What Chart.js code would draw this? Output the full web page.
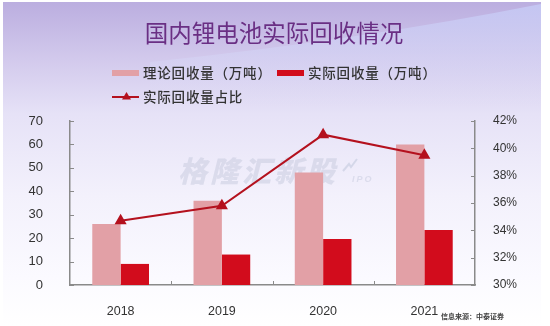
<!DOCTYPE html>
<html>
<head>
<meta charset="utf-8">
<script src="https://cdn.jsdelivr.net/npm/chart.js@4.4.1/dist/chart.umd.min.js"></script>
<style>
html, body { margin: 0; padding: 0; background: #fff; }
#wrap { width: 550px; height: 326px; }
</style>
</head>
<body>
<div id="wrap"><canvas id="recycleChart" width="550" height="326"></canvas></div>
<script>
var years = ['2018', '2019', '2020', '2021'];
var theoreticalVolume = [26, 36, 48, 60];      // 理论回收量（万吨）
var actualVolume = [9, 13, 19.6, 23.5];        // 实际回收量（万吨）
var actualShare = [34.7, 35.8, 41.0, 39.5];    // 实际回收量占比 (%)

var chartTitle = '国内锂电池实际回收情况';
var sourceNote = '信息来源：中泰证券';
var watermark = '格隆汇新股';

var LIGHT_RED = '#e2a0a6';
var DARK_RED = '#d20c1c';
var LINE_RED = '#b4111e';
var AXIS_GRAY = '#8a8a8a';
var TEXT_GRAY = '#333333';
var CJK = '"Noto Sans CJK SC", "Noto Sans", sans-serif';
var LATIN = '"Liberation Sans", Arial, sans-serif';

// background, wave and watermark
var backdrop = {
    id: 'backdrop',
    beforeDraw: function (chart) {
        var ctx = chart.ctx;
        ctx.save();
        ctx.fillStyle = '#ffffff';
        ctx.fillRect(0, 0, chart.width, chart.height);

        var g = ctx.createLinearGradient(0, 0, 0, 326);
        g.addColorStop(0, '#baaddf');
        g.addColorStop(0.18, '#d2c9ec');
        g.addColorStop(0.35, '#e6e2f7');
        g.addColorStop(0.6, '#f3f1fc');
        g.addColorStop(0.85, '#fbfaff');
        g.addColorStop(1, '#ffffff');
        ctx.fillStyle = g;
        ctx.fillRect(3, 2, 538, 324);

        // lighter bluish swoosh in the upper right
        var w = ctx.createLinearGradient(0, 0, 0, 110);
        w.addColorStop(0, 'rgba(196,200,245,0.9)');
        w.addColorStop(1, 'rgba(230,230,250,0)');
        ctx.fillStyle = w;
        ctx.beginPath();
        ctx.moveTo(150, 62);
        ctx.quadraticCurveTo(360, 40, 541, 4);
        ctx.lineTo(541, 110);
        ctx.lineTo(150, 110);
        ctx.closePath();
        ctx.fill();
        ctx.restore();
    },
    beforeDatasetsDraw: function (chart) {
        var ctx = chart.ctx;
        ctx.save();
        ctx.fillStyle = 'rgba(192,198,218,0.45)';
        ctx.font = 'italic 900 29px ' + CJK;
        ctx.letterSpacing = '3px';
        ctx.textBaseline = 'middle';
        ctx.textAlign = 'left';
        ctx.fillText(watermark, 178, 171);
        ctx.font = 'italic bold 9px ' + LATIN;
        ctx.letterSpacing = '2px';
        ctx.fillText('IPO', 352, 180);
        // little trend arrow after the watermark
        ctx.strokeStyle = 'rgba(192,198,218,0.55)';
        ctx.lineWidth = 2;
        ctx.beginPath();
        ctx.moveTo(343, 171);
        ctx.lineTo(349, 164);
        ctx.lineTo(351, 167);
        ctx.lineTo(357, 159);
        ctx.stroke();
        ctx.restore();
    }
};

// title, legend, small inward tick marks, source note
var decorations = {
    id: 'decorations',
    afterDraw: function (chart) {
        var ctx = chart.ctx;
        var sets = chart.data.datasets;
        ctx.save();

        ctx.fillStyle = '#6a2f84';
        ctx.font = '23.5px ' + CJK;
        ctx.textAlign = 'center';
        ctx.textBaseline = 'middle';
        ctx.fillText(chartTitle, 274, 33);

        ctx.font = '500 13.5px ' + CJK;
        ctx.letterSpacing = '0.8px';
        ctx.textAlign = 'left';
        var bars = [sets[1], sets[2]];
        var lx = [112, 277];
        for (var i = 0; i < bars.length; i++) {
            ctx.fillStyle = bars[i].backgroundColor;
            ctx.fillRect(lx[i], 70, 27, 6);
            ctx.fillStyle = TEXT_GRAY;
            ctx.fillText(bars[i].label, lx[i] + 31, 73);
        }
        var line = sets[0];
        ctx.strokeStyle = line.borderColor;
        ctx.lineWidth = 2;
        ctx.beginPath();
        ctx.moveTo(112, 97);
        ctx.lineTo(139, 97);
        ctx.stroke();
        ctx.fillStyle = line.borderColor;
        ctx.beginPath();
        ctx.moveTo(126.5, 92);
        ctx.lineTo(131, 99.5);
        ctx.lineTo(122, 99.5);
        ctx.closePath();
        ctx.fill();
        ctx.fillStyle = TEXT_GRAY;
        ctx.fillText(line.label, 143, 97);
        ctx.letterSpacing = '0px';

        var area = chart.chartArea;
        var yl = chart.scales.y, yr = chart.scales.y1;
        ctx.strokeStyle = AXIS_GRAY;
        ctx.lineWidth = 1;
        ctx.beginPath();
        var step = (area.right - area.left) / years.length;
        for (var k = 1; k < years.length; k++) {
            var px = Math.round(area.left + k * step) + 0.5;
            ctx.moveTo(px, area.bottom);
            ctx.lineTo(px, area.bottom - 4);
        }
        yl.ticks.forEach(function (t) {
            var py = Math.round(yl.getPixelForValue(t.value)) + 0.5;
            ctx.moveTo(area.left, py);
            ctx.lineTo(area.left + 4, py);
        });
        yr.ticks.forEach(function (t) {
            var py = Math.round(yr.getPixelForValue(t.value)) + 0.5;
            ctx.moveTo(area.right, py);
            ctx.lineTo(area.right - 4, py);
        });
        ctx.stroke();

        ctx.fillStyle = '#404040';
        ctx.font = 'bold 7px ' + CJK;
        ctx.fillText(sourceNote, 441, 316);
        ctx.restore();
    }
};

var ctx = document.getElementById('recycleChart');
new Chart(ctx, {
    data: {
        labels: years,
        datasets: [{
            type: 'line',
            label: '实际回收量占比',
            data: actualShare,
            yAxisID: 'y1',
            order: 0,
            borderColor: LINE_RED,
            backgroundColor: LINE_RED,
            borderWidth: 2,
            tension: 0,
            pointStyle: 'triangle',
            pointRadius: 5,
            pointBackgroundColor: LINE_RED,
            pointBorderColor: LINE_RED
        }, {
            type: 'bar',
            label: '理论回收量（万吨）',
            data: theoreticalVolume,
            yAxisID: 'y',
            order: 1,
            backgroundColor: LIGHT_RED,
            categoryPercentage: 0.56,
            barPercentage: 1
        }, {
            type: 'bar',
            label: '实际回收量（万吨）',
            data: actualVolume,
            yAxisID: 'y',
            order: 1,
            backgroundColor: DARK_RED,
            categoryPercentage: 0.56,
            barPercentage: 1
        }]
    },
    options: {
        responsive: false,
        animation: false,
        layout: { padding: { top: 121, left: 0, right: 0, bottom: 0 } },
        plugins: {
            legend: { display: false },
            title: { display: false },
            tooltip: { enabled: false }
        },
        scales: {
            x: {
                offset: true,
                grid: { display: false },
                border: { display: true, color: AXIS_GRAY, width: 1.5 },
                ticks: { color: TEXT_GRAY, padding: 11, font: { family: LATIN, size: 12.5 } },
                afterFit: function (s) { s.height = 41; }
            },
            y: {
                position: 'left',
                min: 0,
                max: 70,
                grid: { display: false },
                border: { display: true, color: AXIS_GRAY, width: 1.5 },
                ticks: { stepSize: 10, color: TEXT_GRAY, padding: 19, font: { family: LATIN, size: 13 } },
                afterFit: function (s) { s.width = 70; }
            },
            y1: {
                position: 'right',
                min: 30,
                max: 42,
                grid: { display: false },
                border: { display: true, color: AXIS_GRAY, width: 1.5 },
                ticks: {
                    stepSize: 2,
                    color: TEXT_GRAY,
                    padding: 10,
                    font: { family: LATIN, size: 12 },
                    callback: function (v) { return v + '%'; }
                },
                afterFit: function (s) { s.width = 75; }
            }
        }
    },
    plugins: [backdrop, decorations]
});
</script>
</body>
</html>
